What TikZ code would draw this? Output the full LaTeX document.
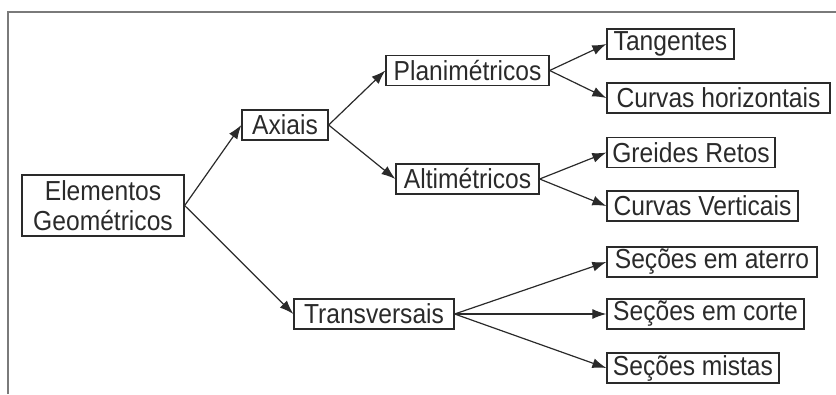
\documentclass[tikz,border=0pt]{standalone}
\usepackage{fontspec}
\setmainfont{Liberation Sans}[FakeStretch=0.895]
\usetikzlibrary{arrows.meta}
\definecolor{ink}{HTML}{2A2A2A}
\definecolor{framegray}{HTML}{7A7A7A}
\begin{document}
\begin{tikzpicture}[x=1pt,y=1pt,
  box/.style={draw=ink, line width=1.3pt, text=ink, minimum height=30pt, inner sep=0pt,
    font=\fontsize{27.5}{30}\selectfont, align=center},
  conn/.style={draw=ink, line width=1.2pt, -{Latex[length=14pt,width=10pt]}}]
\useasboundingbox (0,0) rectangle (836,-394);
\draw[framegray, line width=1.6pt] (8,-394) -- (8,-12) -- (836,-12);
\node[box, minimum width=162pt, minimum height=61pt] (elem) at (103,-205.5) {Elementos\\Geométricos};
\node[box, minimum width=86pt] (axi) at (285,-125) {Axiais};
\node[box, minimum width=160pt] (tra) at (374,-314) {Transversais};
\node[box, minimum width=163pt] (pla) at (467.5,-70.5) {Planimétricos};
\node[box, minimum width=143pt] (alt) at (467.5,-179) {Altimétricos};
\node[box, minimum width=127pt] (tan) at (670.5,-44) {Tangentes};
\node[box, minimum width=223pt] (chz) at (718.5,-98) {Curvas horizontais};
\node[box, minimum width=168pt] (gre) at (691,-152.5) {Greides Retos};
\node[box, minimum width=191pt] (cve) at (702.5,-206) {Curvas Verticais};
\node[box, minimum width=210pt] (ate) at (712,-262) {Seções em aterro};
\node[box, minimum width=197pt] (cor) at (705.5,-314) {Seções em corte};
\node[box, minimum width=172pt] (mis) at (693,-368) {Seções mistas};
\draw[conn] (elem.east) -- (axi.west);
\draw[conn] (elem.east) -- (tra.west);
\draw[conn] (axi.east) -- (pla.west);
\draw[conn] (axi.east) -- (alt.west);
\draw[conn] (pla.east) -- (tan.west);
\draw[conn] (pla.east) -- (chz.west);
\draw[conn] (alt.east) -- (gre.west);
\draw[conn] (alt.east) -- (cve.west);
\draw[conn] (tra.east) -- (ate.west);
\draw[conn] (tra.east) -- (cor.west);
\draw[conn] (tra.east) -- (mis.west);
\end{tikzpicture}
\end{document}
